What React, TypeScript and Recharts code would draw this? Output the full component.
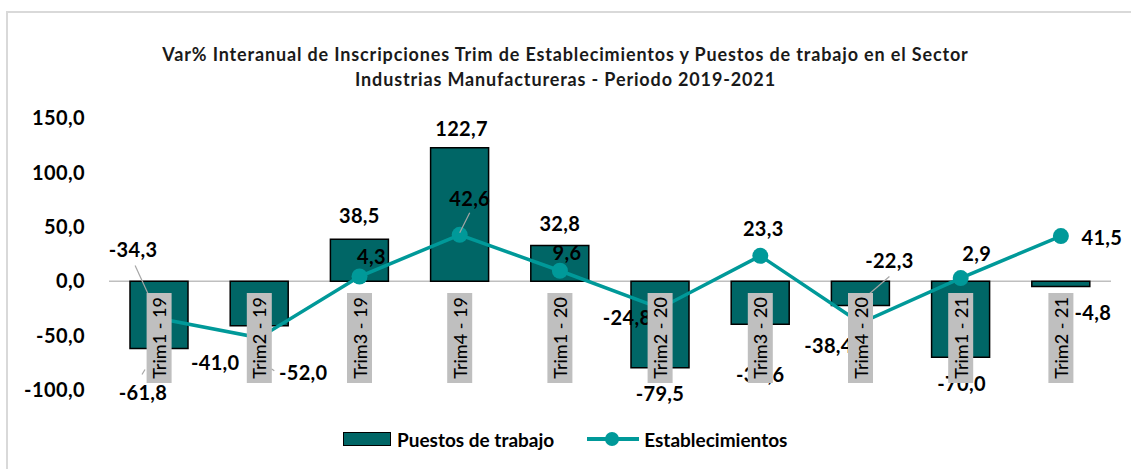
import React from "react";
import {
  ComposedChart,
  Bar,
  Line,
  XAxis,
  YAxis,
  LabelList,
  ReferenceLine,
} from "recharts";

const categorias = [
  "Trim1 - 19",
  "Trim2 - 19",
  "Trim3 - 19",
  "Trim4 - 19",
  "Trim1 - 20",
  "Trim2 - 20",
  "Trim3 - 20",
  "Trim4 - 20",
  "Trim1 - 21",
  "Trim2 - 21",
];
const puestos = [-61.8, -41.0, 38.5, 122.7, 32.8, -79.5, -39.6, -22.3, -70.0, -4.8];
const establecimientos = [-34.3, -52.0, 4.3, 42.6, 9.6, -24.8, 23.3, -38.4, 2.9, 41.5];
const yTicks = [-100, -50, 0, 50, 100, 150];

const BAR_COLOR = "#006666";
const LINE_COLOR = "#009999";
const FONT = "Lato, 'Open Sans', sans-serif";

// label placement, like the manual drags in the original workbook
const BAR_LABEL_OFFSETS = [
  [-16, 44], [-44, 36], [0, -24], [2, -20], [0, -23],
  [0, 25], [0, 50], [29, -45], [1, 26], [32, 26],
];
const LINE_LABEL_OFFSETS = [
  [-26, -70], [44, 34], [12, -21], [10, -37], [7, -19],
  [-33, 9], [3, -28], [-32, 22], [16, -25], [41, 1],
];
// leader lines: [x1, y1, x2, y2] relative to the anchor point
const BAR_LEADERS: Record<number, number[]> = {
  0: [-14, 21, -17, 26],
  7: [29, -29, 7, -10],
};
const LINE_LEADERS: Record<number, number[]> = {
  0: [-24, -53, -8, -18],
  1: [12, 31, 15, 33],
  3: [10, -22, 0, -2],
};

const data = categorias.map((cat, i) => ({
  cat,
  puestos: puestos[i],
  establecimientos: establecimientos[i],
}));

const fmt = (v: number) => v.toFixed(1).replace(".", ",");

function ValueText({ x, y, value }: { x: number; y: number; value: number }) {
  return (
    <text
      x={x}
      y={y}
      textAnchor="middle"
      dominantBaseline="central"
      fontFamily={FONT}
      fontWeight={700}
      fontSize={20}
      letterSpacing={0.3}
      fill="#000"
    >
      {fmt(value)}
    </text>
  );
}

function Leader({ ax, ay, seg }: { ax: number; ay: number; seg?: number[] }) {
  if (!seg) return null;
  return (
    <line
      x1={ax + seg[0]}
      y1={ay + seg[1]}
      x2={ax + seg[2]}
      y2={ay + seg[3]}
      stroke="#a6a6a6"
      strokeWidth={1.2}
    />
  );
}

function BarLabel(props: any) {
  const { x, y, width, height, value, index } = props;
  const top = Math.min(y, y + height);
  const bottom = Math.max(y, y + height);
  const ax = x + width / 2;
  const ay = value >= 0 ? top : bottom;
  const [dx, dy] = BAR_LABEL_OFFSETS[index];
  return (
    <g>
      <Leader ax={ax} ay={ay} seg={BAR_LEADERS[index]} />
      <ValueText x={ax + dx} y={ay + dy} value={value} />
    </g>
  );
}

function LineLabel(props: any) {
  const { x, y, value, index } = props;
  const [dx, dy] = LINE_LABEL_OFFSETS[index];
  return (
    <g>
      <Leader ax={x} ay={y} seg={LINE_LEADERS[index]} />
      <ValueText x={x + dx} y={y + dy} value={value} />
    </g>
  );
}

function CategoryTick(props: any) {
  const { x, y, payload } = props;
  const cy = y - 52;
  return (
    <g>
      <rect x={x - 12.5} y={y - 97} width={25} height={90} fill="#bfbfbf" />
      <text
        x={x}
        y={cy}
        transform={`rotate(-90 ${x} ${cy})`}
        textAnchor="middle"
        dominantBaseline="central"
        fontFamily={FONT}
        fontWeight={500}
        fontSize={18}
        fill="#000"
      >
        {payload.value}
      </text>
    </g>
  );
}

function LegendBox() {
  return (
    <div
      style={{
        position: "absolute",
        top: 428,
        left: 343,
        display: "flex",
        alignItems: "center",
        fontFamily: FONT,
        fontWeight: 700,
        fontSize: 19,
        color: "#000",
        height: 22,
      }}
    >
      <span
        style={{
          display: "inline-block",
          width: 46,
          height: 12,
          background: BAR_COLOR,
          border: "1.5px solid #000",
          marginRight: 6,
        }}
      />
      <span>Puestos de trabajo</span>
      <svg width={52} height={16} style={{ marginLeft: 33, marginRight: 5 }}>
        <line x1={0} y1={8} x2={52} y2={8} stroke={LINE_COLOR} strokeWidth={4} />
        <circle cx={25} cy={8} r={7} fill={LINE_COLOR} />
      </svg>
      <span>Establecimientos</span>
    </div>
  );
}

export default function App() {
  return (
    <div
      style={{
        position: "absolute",
        left: 0,
        top: 0,
        width: 1131,
        height: 469,
        background: "#fff",
        overflow: "hidden",
      }}
    >
      <div
        style={{
          position: "absolute",
          left: 6,
          top: 11,
          right: -4,
          bottom: -4,
          borderTop: "2px solid #d9d9d9",
          borderLeft: "2px solid #d9d9d9",
        }}
      />
      <div
        style={{
          position: "absolute",
          top: 42,
          left: 0,
          width: 1131,
          textAlign: "center",
          fontFamily: FONT,
          fontWeight: 700,
          fontSize: 18,
          letterSpacing: 0.85,
          lineHeight: "25px",
          color: "#1a1a1a",
        }}
      >
        Var% Interanual de Inscripciones Trim de Establecimientos y Puestos de trabajo en el Sector
        <br />
        Industrias Manufactureras - Periodo 2019-2021
      </div>
      <div style={{ position: "absolute", left: 0, top: 0 }}>
        <ComposedChart
          width={1131}
          height={469}
          data={data}
          margin={{ top: 118, right: 20, bottom: 78, left: 9 }}
        >
          <ReferenceLine y={0} stroke="#bfbfbf" strokeWidth={1.5} zIndex={-50} />
          <YAxis
            domain={[-100, 150]}
            ticks={yTicks}
            tickFormatter={fmt}
            axisLine={false}
            tickLine={false}
            tickMargin={18}
            width={100}
            tick={{ fontSize: 20, fontWeight: 700, fill: "#000", fontFamily: FONT, letterSpacing: 0.4 }}
          />
          <Bar
            dataKey="puestos"
            name="Puestos de trabajo"
            fill={BAR_COLOR}
            stroke="#000"
            strokeWidth={1.5}
            barSize={58}
            isAnimationActive={false}
          >
            <LabelList dataKey="puestos" content={<BarLabel />} />
          </Bar>
          <Line
            dataKey="establecimientos"
            name="Establecimientos"
            stroke={LINE_COLOR}
            strokeWidth={3.5}
            dot={{ r: 8, fill: LINE_COLOR, stroke: "none" }}
            activeDot={false}
            isAnimationActive={false}
          >
            <LabelList dataKey="establecimientos" content={<LineLabel />} />
          </Line>
          <XAxis
            dataKey="cat"
            axisLine={false}
            tickLine={false}
            tickSize={0}
            tickMargin={0}
            height={1}
            interval={0}
            tick={<CategoryTick />}
            zIndex={2500}
          />
        </ComposedChart>
      </div>
      <LegendBox />
    </div>
  );
}
